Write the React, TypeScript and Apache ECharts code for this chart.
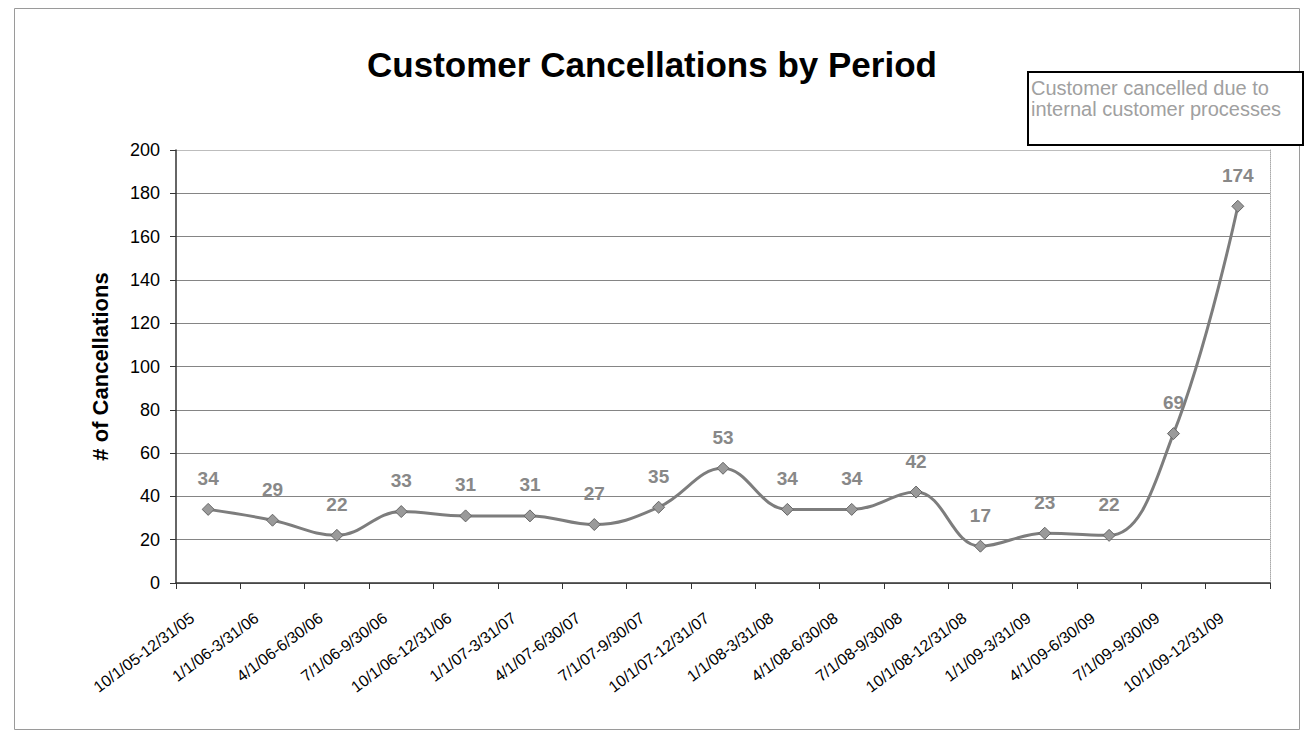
import React, { useEffect, useRef } from "react";
import * as echarts from "echarts";

const periods: string[] = [
  "10/1/05-12/31/05",
  "1/1/06-3/31/06",
  "4/1/06-6/30/06",
  "7/1/06-9/30/06",
  "10/1/06-12/31/06",
  "1/1/07-3/31/07",
  "4/1/07-6/30/07",
  "7/1/07-9/30/07",
  "10/1/07-12/31/07",
  "1/1/08-3/31/08",
  "4/1/08-6/30/08",
  "7/1/08-9/30/08",
  "10/1/08-12/31/08",
  "1/1/09-3/31/09",
  "4/1/09-6/30/09",
  "7/1/09-9/30/09",
  "10/1/09-12/31/09",
];

const cancellations: number[] = [34, 29, 22, 33, 31, 31, 27, 35, 53, 34, 34, 42, 17, 23, 22, 69, 174];

const yMin = 0;
const yMax = 200;
const yStep = 20;

const titleText = "Customer Cancellations by Period";
const yAxisTitle = "# of Cancellations";
const noteLines: string[] = ["Customer cancelled due to", "internal customer processes"];

const FONT = "'Liberation Sans', Arial, Helvetica, sans-serif";

export default function App() {
  const ref = useRef<HTMLDivElement>(null);

  useEffect(() => {
    if (!ref.current) return;
    const chart = echarts.init(ref.current, null, { renderer: "svg" });
    const gridColors: string[] = [];
    for (let v = yMin; v <= yMax; v += yStep) {
      gridColors.push(v === yMax ? "#bdbdbd" : "#858585");
    }
    chart.setOption({
      animation: false,
      backgroundColor: "#ffffff",
      textStyle: { fontFamily: FONT },
      title: {
        text: titleText,
        left: "center",
        top: 42,
        textStyle: { fontFamily: FONT, fontSize: 35, fontWeight: "bold", color: "#000" },
      },
      grid: { left: 176, right: 34, top: 150, bottom: 159, containLabel: false },
      xAxis: {
        type: "category",
        data: periods,
        boundaryGap: true,
        axisLine: { show: true, lineStyle: { color: "#333", width: 1.5 } },
        axisTick: { show: true, interval: 0, length: 6, lineStyle: { color: "#333" } },
        axisLabel: {
          interval: 0,
          rotate: 37,
          margin: 21,
          padding: [0, 20, 0, 0],
          fontSize: 16,
          color: "#000",
          fontFamily: FONT,
        },
        splitLine: { show: false },
      },
      yAxis: [
        {
          type: "value",
          min: yMin,
          max: yMax,
          interval: yStep,
          name: yAxisTitle,
          nameLocation: "middle",
          nameGap: 65,
          nameTextStyle: { fontFamily: FONT, fontSize: 22, fontWeight: "bold", color: "#000" },
          axisLine: { show: true, lineStyle: { color: "#333", width: 1.5 } },
          axisTick: { show: true, length: 6, lineStyle: { color: "#333" } },
          axisLabel: { fontSize: 18, color: "#000", margin: 16, fontFamily: FONT },
          splitLine: { show: true, lineStyle: { color: gridColors, width: 1 } },
        },
        {
          type: "value",
          min: yMin,
          max: yMax,
          interval: yStep,
          position: "right",
          axisLine: { show: true, lineStyle: { color: "#aaa", width: 1, type: "dotted" } },
          axisTick: { show: false },
          axisLabel: { show: false },
          splitLine: { show: false },
        },
      ],
      series: [
        {
          type: "line",
          data: cancellations,
          yAxisIndex: 0,
          smooth: 0.4,
          symbol: "diamond",
          symbolSize: 12,
          lineStyle: { color: "#7d7d7d", width: 3 },
          itemStyle: { color: "#9a9a9a", borderColor: "#666", borderWidth: 1 },
          label: {
            show: true,
            position: "top",
            distance: 15,
            fontSize: 19,
            fontWeight: "bold",
            color: "#888888",
            fontFamily: FONT,
          },
        },
      ],
      graphic: [
        {
          type: "rect",
          left: 12,
          top: 6,
          shape: { x: 0, y: 0, width: 1285, height: 721 },
          style: { fill: "none", stroke: "#9a9a9a", lineWidth: 1 },
          silent: true,
          z: -1,
        },
        {
          type: "group",
          left: 1027,
          top: 71,
          children: [
            {
              type: "rect",
              shape: { x: 0, y: 0, width: 275, height: 73 },
              style: { fill: "#fff", stroke: "#000", lineWidth: 2 },
            },
            {
              type: "text",
              x: 3,
              y: 5,
              style: {
                text: noteLines.join("\n"),
                fontSize: 20,
                lineHeight: 21,
                fontFamily: FONT,
                fill: "#a0a0a0",
              },
            },
          ],
        },
      ],
    });
    return () => chart.dispose();
  }, []);

  return (
    <div
      ref={ref}
      style={{ position: "fixed", left: 0, top: 0, width: 1304, height: 742, background: "#fff" }}
    />
  );
}
